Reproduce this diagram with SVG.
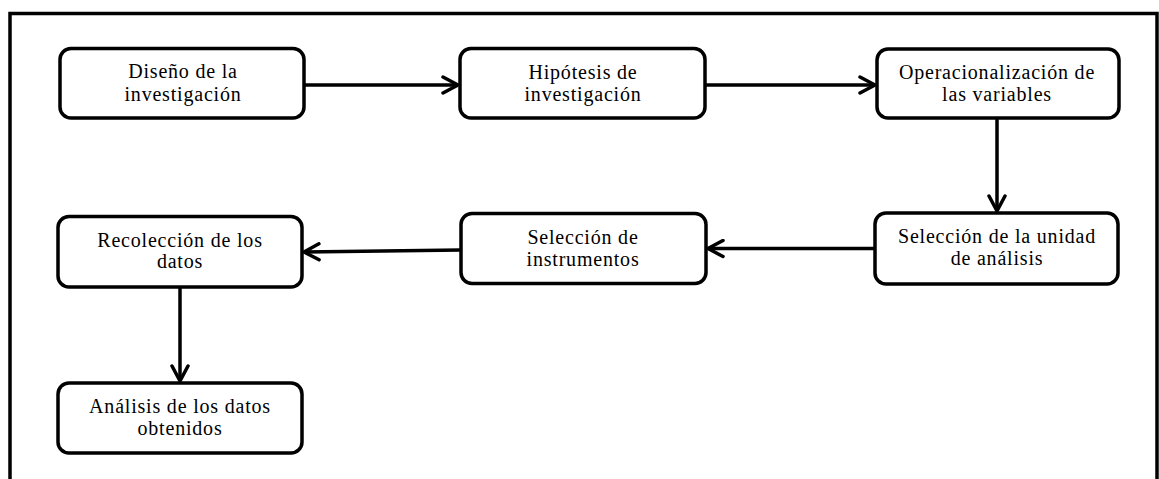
<svg xmlns="http://www.w3.org/2000/svg" width="1159" height="479" viewBox="0 0 1159 479">
<style>
.box{fill:#fff;stroke:#000;stroke-width:3.5}
.lbl{font-family:"Liberation Serif","Times New Roman",serif;font-size:20px;letter-spacing:0.8px;fill:#000;text-anchor:middle}
.conn{stroke:#000;stroke-width:3.5;fill:none}
</style>
<defs>
<marker id="arr" markerUnits="userSpaceOnUse" viewBox="0 0 20 20" refX="18" refY="10" markerWidth="20" markerHeight="20" orient="auto">
<path d="M3,2 L18,10 L3,18" fill="none" stroke="#000" stroke-width="3.5" stroke-linejoin="round" stroke-linecap="round"/>
</marker>
</defs>
<rect x="0" y="0" width="1159" height="479" fill="#fff"/>
<rect x="10" y="13.5" width="1147" height="480" fill="none" stroke="#000" stroke-width="3.5"/>
<g id="connectors">
<line class="conn" x1="304" y1="85" x2="458" y2="85" marker-end="url(#arr)"/>
<line class="conn" x1="705" y1="85" x2="875" y2="85" marker-end="url(#arr)"/>
<line class="conn" x1="997" y1="118" x2="997" y2="211" marker-end="url(#arr)"/>
<line class="conn" x1="875" y1="248.5" x2="708" y2="248.5" marker-end="url(#arr)"/>
<line class="conn" x1="461" y1="250" x2="304" y2="252" marker-end="url(#arr)"/>
<line class="conn" x1="180" y1="287" x2="180" y2="381" marker-end="url(#arr)"/>
</g>
<g id="n1"><rect class="box" x="60" y="48.5" width="244" height="69.5" rx="11"/><text class="lbl" x="183" y="78">Diseño de la</text><text class="lbl" x="183" y="101">investigación</text></g>
<g id="n2"><rect class="box" x="460" y="48.5" width="245" height="69.5" rx="11"/><text class="lbl" x="583" y="79">Hipótesis de</text><text class="lbl" x="583" y="101">investigación</text></g>
<g id="n3"><rect class="box" x="877" y="49" width="242" height="69" rx="11"/><text class="lbl" x="997" y="79">Operacionalización de</text><text class="lbl" x="997" y="101">las variables</text></g>
<g id="n4"><rect class="box" x="875" y="213" width="243" height="71" rx="11"/><text class="lbl" x="997" y="243">Selección de la unidad</text><text class="lbl" x="997" y="265">de análisis</text></g>
<g id="n5"><rect class="box" x="461" y="213.5" width="245" height="70" rx="11"/><text class="lbl" x="583" y="244">Selección de</text><text class="lbl" x="583" y="266">instrumentos</text></g>
<g id="n6"><rect class="box" x="58" y="216.5" width="244" height="70.5" rx="11"/><text class="lbl" x="180" y="247">Recolección de los</text><text class="lbl" x="180" y="268">datos</text></g>
<g id="n7"><rect class="box" x="58" y="383" width="244" height="70" rx="11"/><text class="lbl" x="180" y="413">Análisis de los datos</text><text class="lbl" x="180" y="435">obtenidos</text></g>
</svg>
